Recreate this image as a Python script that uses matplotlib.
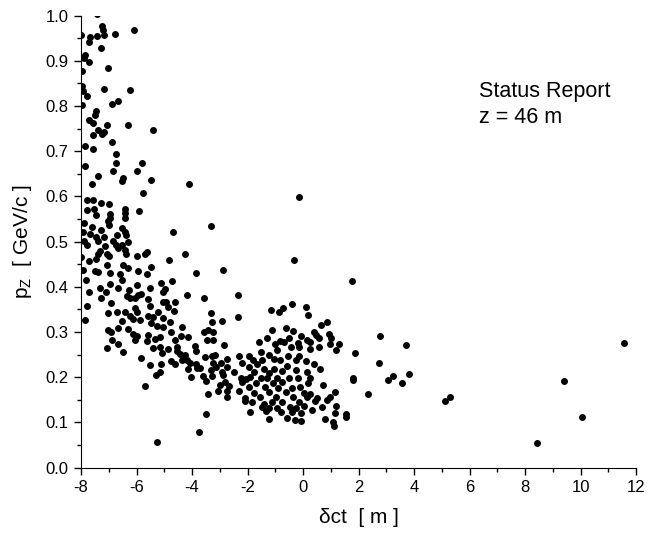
import matplotlib
matplotlib.use("Agg")
import matplotlib.pyplot as plt

plt.rcParams['font.family'] = ['Liberation Sans', 'DejaVu Sans']
plt.rcParams['axes.unicode_minus'] = False

# upper left group (pz > 0.68)
x_top = [-7.42, -7.23, -7.20, -6.09, -6.77, -7.16, -7.42, -7.67, -7.99, -7.70,
         -7.28, -7.84, -7.89, -7.72, -7.04, -7.98, -7.98, -7.94, -7.77, -7.16,
         -6.23, -7.98, -6.87, -6.67, -7.45, -7.50, -7.72, -7.55, -7.08, -6.29,
         -5.42, -7.38, -7.18, -7.25, -7.55, -7.86, -7.55, -6.87, -6.74]
y_top = [1.003, 0.976, 0.969, 0.968, 0.960, 0.957, 0.954, 0.953, 0.956, 0.941,
         0.929, 0.913, 0.906, 0.898, 0.885, 0.878, 0.845, 0.832, 0.821, 0.838,
         0.835, 0.802, 0.804, 0.810, 0.789, 0.779, 0.770, 0.763, 0.758, 0.757,
         0.747, 0.746, 0.743, 0.739, 0.736, 0.712, 0.705, 0.720, 0.694]

# left band 0.36 - 0.68
x_mid = [-7.84, -6.74, -6.84, -5.80, -5.97, -7.38, -6.48, -6.51, -5.47, -4.11,
         -7.59, -5.78, -7.77, -7.55, -7.28, -6.98, -7.79, -7.52, -7.45, -6.43,
         -6.43, -5.90, -6.94, -6.94, -6.41, -7.04, -7.91, -6.98, -7.59, -7.28,
         -6.51, -6.43, -7.94, -7.67, -6.39, -6.72, -7.47, -7.18, -3.33, -4.70,
         -7.89, -7.40, -6.84, -7.77, -6.74, -6.53, -7.13, -6.31, -6.65, -6.43,
         -7.30, -7.40, -7.08, -6.39, -7.99, -6.98, -6.00, -5.63, -5.68, -7.45,
         -4.24, -7.72, -4.84, -7.08, -6.48, -6.31, -7.94, -7.50, -5.95, -5.49,
         -7.38, -6.96, -6.58, -5.63, -3.87, -7.81, -6.94, -6.51, -5.97, -5.13,
         -4.72, -7.72, -7.30, -7.11, -6.65, -6.26, -5.83, -5.52, -5.03, -4.98,
         -4.19, -3.57, -7.28, -6.36, -6.24, -6.07, -5.95, -7.79, -6.91, -5.57,
         -5.06, -4.93, -4.63]
y_mid = [0.668, 0.673, 0.656, 0.673, 0.656, 0.646, 0.640, 0.633, 0.636, 0.628,
         0.628, 0.608, 0.591, 0.593, 0.586, 0.584, 0.569, 0.572, 0.558, 0.571,
         0.563, 0.568, 0.562, 0.552, 0.552, 0.546, 0.540, 0.537, 0.533, 0.525,
         0.529, 0.522, 0.522, 0.516, 0.515, 0.515, 0.510, 0.510, 0.534, 0.522,
         0.502, 0.502, 0.502, 0.493, 0.493, 0.493, 0.490, 0.498, 0.485, 0.482,
         0.478, 0.472, 0.472, 0.472, 0.466, 0.469, 0.469, 0.476, 0.472, 0.462,
         0.473, 0.457, 0.460, 0.447, 0.448, 0.441, 0.436, 0.435, 0.435, 0.444,
         0.432, 0.431, 0.428, 0.428, 0.431, 0.414, 0.407, 0.414, 0.404, 0.409,
         0.412, 0.389, 0.397, 0.388, 0.397, 0.392, 0.383, 0.398, 0.388, 0.394,
         0.382, 0.375, 0.375, 0.379, 0.375, 0.375, 0.382, 0.357, 0.364, 0.372,
         0.366, 0.367, 0.367]

# left band below 0.36
x_low = [-7.86, -7.04, -6.70, -6.41, -6.24, -6.04, -6.00, -6.14, -5.88, -6.51,
         -5.52, -5.57, -5.40, -5.23, -5.06, -4.88, -4.65, -4.80, -5.47, -5.25,
         -5.03, -7.01, -6.91, -6.68, -6.31, -6.14, -6.00, -6.04, -6.89, -6.65,
         -7.06, -6.48, -5.59, -5.61, -5.35, -5.15, -5.40, -5.15, -4.77, -4.63,
         -4.36, -4.38, -4.16, -4.85, -4.55, -4.53, -4.43, -5.09, -4.26, -5.83,
         -5.52, -5.10, -4.75, -4.63, -4.36, -4.19, -3.90, -3.87, -4.07, -4.14,
         -4.04, -3.87, -3.82, -3.70, -5.30, -5.15, -5.70, -3.57, -3.47, -3.32,
         -3.29, -3.42, -3.25, -3.54, -3.27, -3.61, -3.49, -3.27, -3.42, -3.51,
         -3.75, -5.27]
y_low = [0.326, 0.342, 0.345, 0.344, 0.336, 0.352, 0.345, 0.329, 0.327, 0.325,
         0.357, 0.336, 0.332, 0.344, 0.331, 0.356, 0.347, 0.321, 0.319, 0.314,
         0.311, 0.305, 0.299, 0.308, 0.307, 0.296, 0.290, 0.283, 0.283, 0.273,
         0.264, 0.255, 0.293, 0.280, 0.285, 0.288, 0.264, 0.267, 0.299, 0.283,
         0.311, 0.292, 0.289, 0.263, 0.267, 0.258, 0.251, 0.254, 0.248, 0.242,
         0.227, 0.229, 0.235, 0.230, 0.239, 0.239, 0.268, 0.257, 0.232, 0.218,
         0.201, 0.230, 0.221, 0.220, 0.205, 0.212, 0.180, 0.299, 0.282, 0.341,
         0.321, 0.305, 0.299, 0.245, 0.246, 0.202, 0.192, 0.202, 0.162, 0.118,
         0.078, 0.056]

# central cluster around 0 m
x_core = [-0.15, -0.31, -2.88, 1.78, -2.34, -0.38, 0.10, -0.72, -1.16, -0.87,
          0.17, -2.34, -2.92, -3.24, 0.65, 0.87, -1.11, -0.60, -0.35, 0.39,
          0.46, 0.95, 1.02, -1.30, -0.84, -0.50, -0.09, 0.15, -1.59, -1.01,
          -0.67, -0.19, 0.24, 0.56, 1.29, 0.97, -2.84, -0.45, -0.16, 0.27,
          0.59, 1.20, 1.86, -1.51, -0.92, -3.16, -2.30, -1.93, -1.23, -0.55,
          -0.14, -2.73, -1.81, -1.47, -1.06, -0.82, -0.26, 0.10, -3.26, -2.97,
          -2.20, -1.66, -0.58, 0.39, -3.12, -2.75, -1.96, -1.42, -1.04, -0.26,
          0.63, -3.32, -2.92, -2.49, -1.78, -1.23, -0.77, 0.15, -2.87, -2.24,
          -2.05, -1.91, -1.51, -1.30, -0.94, -0.52, -0.19, 0.27, -2.82, -2.20,
          -1.71, -1.09, -0.77, 0.17, 0.71, 1.80, 1.80, -3.00, -2.65, -1.93,
          -1.38, -0.89, -0.38, -0.12, -3.06, -2.75, -2.32, -1.78, -1.21, -0.63,
          0.02, 0.27, 1.15, 2.35, -2.73, -2.09, -1.56, -0.99, -0.35, 0.15,
          0.51, 0.97, -2.09, -1.85, -1.42, -1.11, -0.74, -0.16, 0.44, 0.88,
          -1.49, -1.23, -0.94, -0.48, -0.26, 0.02, 0.32, 0.68, 1.20, -1.91,
          -1.33, -0.79, -0.40, -0.06, 1.15, 1.54, 1.56, -1.23, -0.58, -0.29,
          -0.09, 0.81, 1.07, 1.12]
y_core = [0.598, 0.459, 0.436, 0.412, 0.381, 0.362, 0.355, 0.353, 0.349, 0.344,
          0.337, 0.334, 0.324, 0.283, 0.316, 0.321, 0.305, 0.308, 0.303, 0.299,
          0.293, 0.296, 0.287, 0.287, 0.281, 0.287, 0.290, 0.283, 0.278, 0.274,
          0.277, 0.275, 0.278, 0.287, 0.274, 0.274, 0.271, 0.266, 0.266, 0.262,
          0.266, 0.260, 0.253, 0.256, 0.259, 0.248, 0.247, 0.246, 0.250, 0.246,
          0.246, 0.240, 0.238, 0.238, 0.240, 0.237, 0.237, 0.235, 0.232, 0.231,
          0.232, 0.229, 0.225, 0.229, 0.222, 0.222, 0.222, 0.219, 0.219, 0.216,
          0.217, 0.215, 0.212, 0.212, 0.212, 0.210, 0.213, 0.212, 0.204, 0.199,
          0.195, 0.200, 0.199, 0.199, 0.197, 0.199, 0.197, 0.199, 0.190, 0.190,
          0.188, 0.188, 0.190, 0.188, 0.182, 0.199, 0.193, 0.182, 0.181, 0.178,
          0.179, 0.175, 0.176, 0.179, 0.169, 0.170, 0.169, 0.164, 0.166, 0.166,
          0.164, 0.163, 0.166, 0.163, 0.156, 0.154, 0.156, 0.156, 0.156, 0.156,
          0.154, 0.156, 0.147, 0.144, 0.141, 0.144, 0.145, 0.144, 0.147, 0.150,
          0.133, 0.132, 0.132, 0.135, 0.132, 0.136, 0.128, 0.133, 0.136, 0.123,
          0.126, 0.123, 0.123, 0.120, 0.120, 0.119, 0.111, 0.108, 0.110, 0.106,
          0.104, 0.108, 0.101, 0.092]

# sparse tail on the right
x_tail = [2.78, 3.71, 2.75, 3.07, 3.23, 3.56, 3.81, 5.11, 5.30, 8.45, 9.41, 10.06, 11.57]
y_tail = [0.291, 0.271, 0.232, 0.194, 0.203, 0.188, 0.206, 0.147, 0.156, 0.055, 0.192, 0.111, 0.275]

fig = plt.figure(figsize=(6.47, 5.38), dpi=100)
ax = fig.add_axes([0.1252, 0.131, 0.8578, 0.8401])

for xs, ys in [(x_top, y_top), (x_mid, y_mid), (x_low, y_low), (x_core, y_core), (x_tail, y_tail)]:
    ax.scatter(xs, ys, s=25, c='black', linewidths=0)

ax.set_xlim(-8, 12)
ax.set_ylim(0.0, 1.0)
ax.set_xticks(range(-8, 13, 2))
ax.set_xticks(range(-8, 13, 1), minor=True)
ax.set_yticks([i / 10 for i in range(11)])
ax.set_yticks([i / 20 for i in range(21)], minor=True)
ax.set_yticklabels([f"{i / 10:.1f}" for i in range(11)])

ax.spines['top'].set_visible(False)
ax.spines['right'].set_visible(False)
ax.tick_params(which='major', direction='out', length=5, width=1, labelsize=12, pad=4)
ax.tick_params(which='minor', direction='out', length=3, width=1)

ax.set_xlabel("\u03b4ct  [ m ]", fontsize=15, labelpad=9)
ax.set_ylabel(r"p$_\mathregular{Z}$  [ GeV/c ]", fontsize=15, labelpad=8)

# annotation, placed by baseline
ax.text(6.34, 0.820, "Status Report", fontsize=15.5, va='baseline')
ax.text(6.34, 0.763, "z = 46 m", fontsize=15.5, va='baseline')

fig.savefig("out.png", dpi=100)
